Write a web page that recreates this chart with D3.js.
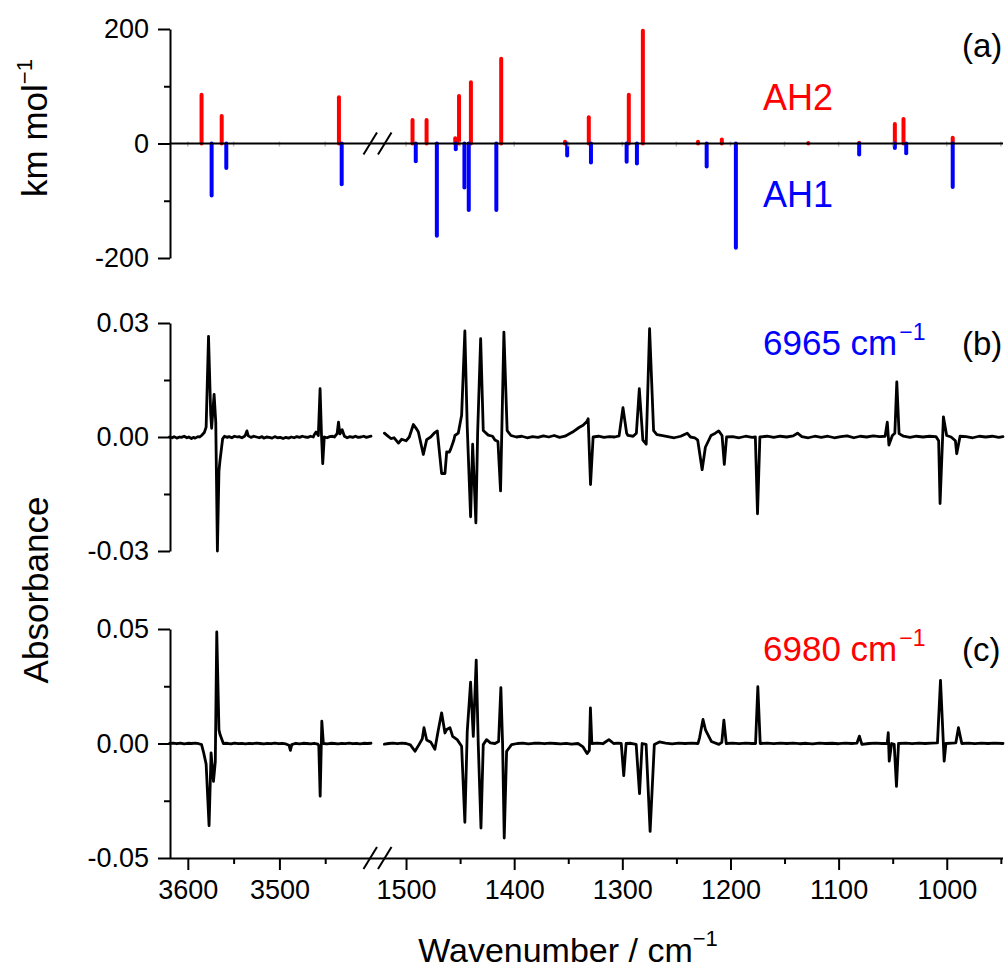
<html>
<head>
<style>
  body { margin: 0; background: #fff; }
  text { font-family: "Liberation Sans", Arial, sans-serif; }
  .axis path, .axis line { stroke: #000; stroke-width: 2; }
  .axis text { font-size: 27px; fill: #000; font-family: "Liberation Sans", Arial, sans-serif; }
</style>
<script src="https://d3js.org/d3.v7.min.js"></script>
</head>
<body>
<svg width="1006" height="972"></svg>
<script>
// ---- (a) calculated stick spectra, km/mol ----
var ah2Wn  = [3585, 3563, 3435, 1494, 1481, 1454.5, 1451, 1440, 1412, 1353, 1331, 1294, 1281, 1230, 1208, 1128, 1081, 1048, 1040, 994.5];
var ah2Int = [85, 48, 81, 41, 41, 9, 83, 107, 148, 3, 46, 85, 197, 3, 7, 1, 1.5, 34, 43, 10];
var ah1Wn  = [3574, 3558, 3432, 1491, 1471.5, 1454, 1446, 1442, 1416.5, 1351, 1329, 1296, 1286.5, 1222, 1195, 1081, 1048, 1037.5, 994.5];
var ah1Int = [-91, -43, -71, -31, -161, -10, -77, -116, -116, -21, -33, -32, -35, -40, -182, -19, -8, -17, -76];

// ---- (b) difference spectrum, 6965 cm-1 irradiation ----
var bLeftWn  = [3620,3617,3615,3612,3609,3607,3604,3601,3599,3596,3594,3592,3589,3587,3585,3582,3580,3577.4,3575,3574,3571.3,3569.5,3567.7,3566,3565,3562,3560,3557,3555,3552,3549,3546,3544,3541,3538,3537,3535.5,3534,3531,3528,3525,3522,3519,3517,3514,3511,3508,3505,3502,3499,3496,3493,3490,3487,3484,3481,3478,3475,3472,3469,3466,3463,3462,3460,3457.5,3455.6,3454,3452.7,3451,3448,3445,3442,3440,3437,3435.5,3434,3431.5,3429,3426,3423,3420,3417,3414,3411,3408,3405,3402,3400];
var bLeftAbs = [0,-0.0002,0.0001,-0.0003,0,-0.0001,0.0002,-0.0002,0,-0.0004,-0.0001,-0.0003,0.0001,0,0.0004,0.0012,0.0026,0.0265,0.006,0.0023,0.0112,0.004,-0.03,-0.009,-0.0065,-0.0005,0.0002,-0.0001,0.0001,-0.0002,0.0002,0,0.0001,-0.0002,0.0002,0.0006,0.0016,0.0003,-0.0001,0.0002,0,-0.0002,0.0001,-0.0003,0,-0.0001,-0.0003,0.0001,-0.0002,-0.0001,-0.0004,-0.0001,-0.0003,0,-0.0002,0.0001,-0.0001,0.0002,0,-0.0001,0.0002,0,0.0006,0.0013,0.0004,0.0127,0.0002,-0.007,0,-0.0002,0.0001,0.0002,0,0.0009,0.0039,0.0008,0.0019,0.0002,-0.0002,0.0001,-0.0001,0.0002,-0.0001,0,0.0002,-0.0001,0.0001,0.0002];
var bRightWn  = [1520,1517,1514,1511,1507,1504,1500,1497,1493.2,1490,1488.6,1484,1480.9,1477.2,1474,1471.1,1467.1,1464,1462.4,1460,1458.7,1456,1454.8,1451.7,1448.6,1445.6,1443.4,1440.3,1438.4,1435.4,1433.8,1431,1428.6,1424,1420,1417.8,1415,1412.6,1409.5,1406.5,1403,1398,1393,1388,1383,1378,1373,1368,1363,1358,1353,1346,1340,1336.3,1333,1331.6,1329.4,1327,1322,1317,1312,1307,1303,1299.4,1296,1294.8,1290,1287,1284.3,1281,1277.9,1274.8,1271.1,1268,1264,1258,1252,1246,1240,1237,1233,1230.3,1226.2,1223.2,1218,1214,1210.9,1207.8,1205.7,1203.6,1198,1192,1186,1180,1177,1175,1172.8,1166,1160,1154,1148,1142,1138,1134,1128,1122,1116,1110,1104,1098,1092,1086,1080,1074,1068,1062,1057,1055,1053.5,1050.3,1048,1046.2,1044.1,1040,1034,1028,1022,1016,1010,1007.5,1006.2,1003.1,1000.1,996,992,990.8,987.7,982,976,970,964,958,952,948];
var bRightAbs = [0.001,0.0003,-0.0004,-0.0002,-0.0016,-0.0006,-0.001,0,0.0033,0.002,0.0013,-0.0046,-0.0007,0,0.001,0.0016,-0.0096,-0.0096,-0.0039,-0.004,-0.0032,-0.001,0.0004,0.001,0.0057,0.0279,0.0026,-0.021,-0.0019,-0.0226,0.0009,0.0259,0.0017,0.0005,0.0002,-0.0008,-0.0012,-0.0142,0.0276,0.0017,0.0004,0,0.0002,-0.0002,0.0001,-0.0001,0.0003,0,0.0004,-0.0001,0.0002,0.0013,0.0025,0.0031,0.004,0.0048,-0.0125,0,0.0002,-0.0001,0.0001,0,0.0003,0.0077,0.001,0.0004,0.0002,0.001,0.0127,-0.0008,-0.0019,0.0285,0.0017,0.0006,0.0004,0.0001,-0.0002,0.0002,0.001,0,-0.0002,-0.0008,-0.0086,-0.0027,0.0004,0.001,0.0016,0.0004,-0.0072,0,0.0001,-0.0002,0.0002,-0.0001,0,-0.0202,0,0.0002,-0.0001,0.0002,0,0.0003,0.001,0.0001,-0.0002,0.0002,-0.0001,0.0002,-0.0002,0.0001,0.0003,-0.0002,0.0002,0,0.0003,0.0001,0.0002,0.0039,-0.0021,0.0004,0.001,0.0145,0.0009,0.0002,-0.0001,0.0002,0,0.0002,0.0001,-0.001,-0.0175,0.0053,0.0004,0,-0.001,-0.0044,0.0002,0.0001,-0.0002,0.0002,0,0.0002,-0.0001,0.0001];

// ---- (c) difference spectrum, 6980 cm-1 irradiation ----
var cLeftWn  = [3620,3616,3612,3608,3604,3600,3596,3592,3588,3585,3583,3580,3576.8,3574.6,3572,3570,3568.4,3566,3564.8,3561.2,3557,3553,3549,3545,3541,3537,3533,3529,3525,3521,3517,3513,3509,3505,3501,3497,3493,3489.5,3488,3486.5,3482,3478,3474,3470,3466,3462,3458,3457,3455.5,3453.7,3452,3448,3444,3440,3436,3432,3428,3424,3420,3416,3412,3408,3404,3400];
var cLeftAbs = [0,0.0002,-0.0001,0.0002,-0.0002,0.0001,0,0.0002,-0.0001,-0.0005,-0.0035,-0.009,-0.0359,-0.0041,-0.0165,-0.008,0.0487,0.006,0.0039,0,0.0001,-0.0002,0.0002,-0.0001,0.0001,-0.0002,0.0001,-0.0001,0.0002,0,-0.0002,0.0001,-0.0001,0.0002,-0.0001,0.0001,-0.0002,-0.0008,-0.003,-0.0005,0.0001,-0.0002,0.0001,0,-0.0002,0.0001,-0.0003,-0.001,-0.023,0.0098,0,-0.0002,0.0001,0,-0.0002,0.0001,-0.0001,0.0002,-0.0001,0.0001,-0.0002,0.0001,0,0.0001];
var cRightWn  = [1520,1516,1512,1508,1504,1500,1496,1491.7,1488,1485,1483.4,1480.9,1477,1473.3,1470.2,1467.1,1464,1462.4,1459.4,1456.9,1452.7,1448.6,1445.6,1443.4,1440.3,1437.8,1435.1,1433.2,1430.7,1428.6,1425.5,1422,1417.8,1414.4,1412.3,1410.7,1409.2,1407,1402.4,1397,1392,1387,1382,1377,1372,1367,1362,1357,1352,1347,1341,1336.3,1332.6,1330.5,1329.5,1328.2,1323,1318,1312.4,1308,1304,1301,1298.7,1296.5,1292,1287.2,1284.1,1281.7,1278,1274.3,1270.4,1265.7,1260,1254,1248,1242,1236,1230,1228.5,1225.4,1223,1217.7,1210.7,1208,1206.1,1203.9,1198,1192,1186,1180,1176.8,1174.7,1172.5,1166,1160,1154,1148,1142,1136,1130,1124,1118,1112,1106,1100,1094,1088,1083,1080.8,1078.5,1072,1066,1060,1055,1054.1,1053.2,1051,1048.6,1046.5,1044.6,1038,1032,1026,1020,1014,1008.6,1005.8,1002.4,1000.8,995,991.6,989.2,986.1,980,974,968,962,956,948];
var cRightAbs = [-0.0003,0,0.0002,-0.0001,0.0002,0,-0.0006,-0.0034,-0.0005,0.002,0.0069,0.0015,0.0005,-0.0025,0.0058,0.0134,0.0046,0.0061,0.0069,0.0031,0.0017,-0.0012,-0.0344,0.0052,0.0268,0.0031,0.0364,-0.0005,-0.0369,-0.0005,0.0017,0.0003,0,0.0009,0.0244,-0.0005,-0.0413,-0.0034,-0.0005,0,0.0002,-0.0002,0.0001,0.0002,-0.0001,0.0002,0,-0.0002,0.0001,-0.0003,0,-0.0015,-0.0044,-0.003,0.0156,0,0.0002,-0.0001,0.0017,0,0.0002,0,-0.014,0,0.0001,-0.0004,-0.0219,0,-0.0004,-0.0384,-0.0004,0.0007,0.0002,-0.0002,0.0002,0,0.0002,0,0.0027,0.0105,0.0058,0.0009,-0.0004,0.0005,0.0102,0,0.0002,-0.0001,0.0002,0,0,0.0248,0,0.0002,-0.0001,0.0002,0,0.0002,-0.0001,0.0001,-0.0002,0.0002,0,0.0001,-0.0001,0.0002,0,0.0002,0.0032,-0.0004,0,0.0002,0,0,0.0047,-0.0077,0,-0.0004,-0.0187,0,0.0002,-0.0001,0.0002,0,0.0002,0.0003,0.0276,-0.0077,0,0.0002,0.0003,0.0069,0,0.0002,-0.0001,0.0002,0,0.0002,0];

// ---- ticks ----
var yTicksA = [-200, 0, 200],      yMinorA = [-100, 100];
var yTicksB = [-0.03, 0, 0.03],    yMinorB = [-0.015, 0.015];
var yTicksC = [-0.05, 0, 0.05],    yMinorC = [-0.025, 0.025];
var xTicksLeft  = [3600, 3500],    xMinorLeft  = [3550, 3450];
var xTicksRight = [1500, 1400, 1300, 1200, 1100, 1000];
var xMinorRight = [1450, 1350, 1250, 1150, 1050, 950];

var svg = d3.select("svg");

// gebrochene x-Achse: zwei Skalen
var xL = d3.scaleLinear().domain([3620, 3400]).range([169.5, 371]);
var xR = d3.scaleLinear().domain([1520, 948]).range([384.4, 1003]);
function xs(w) { return w > 2000 ? xL(w) : xR(w); }

var yA = d3.scaleLinear().domain([-200, 200]).range([258, 29]);
var yB = d3.scaleLinear().domain([-0.03, 0.03]).range([551, 323]);
var yC = d3.scaleLinear().domain([-0.05, 0.05]).range([858, 629]);

function fmt2(d) { return d.toFixed(2); }

function yAxis(scale, major, minor, f) {
  svg.append("g").attr("class", "axis").attr("transform", "translate(170,0)")
     .call(d3.axisLeft(scale).tickValues(major).tickSize(12).tickPadding(9).tickSizeOuter(0).tickFormat(f));
  var m = svg.append("g").attr("class", "axis").attr("transform", "translate(170,0)")
     .call(d3.axisLeft(scale).tickValues(minor).tickSize(6).tickFormat(""));
  m.select(".domain").remove();
}
yAxis(yA, yTicksA, yMinorA, function(d){ return String(d); });
yAxis(yB, yTicksB, yMinorB, fmt2);
yAxis(yC, yTicksC, yMinorC, fmt2);

// bottom axis
function xAxis(scale, major, minor) {
  var g = svg.append("g").attr("class", "axis").attr("transform", "translate(0,858)")
     .call(d3.axisBottom(scale).tickValues(major).tickSize(12).tickPadding(10).tickFormat(d3.format("d")));
  g.select(".domain").remove();
  var m = svg.append("g").attr("class", "axis").attr("transform", "translate(0,858)")
     .call(d3.axisBottom(scale).tickValues(minor).tickSize(6).tickFormat(""));
  m.select(".domain").remove();
}
xAxis(xL, xTicksLeft, xMinorLeft);
xAxis(xR, xTicksRight, xMinorRight);
svg.append("line").attr("x1", 170).attr("x2", 1003).attr("y1", 858.5).attr("y2", 858.5)
   .attr("stroke", "#000").attr("stroke-width", 2);

// sticks (a)
var ah2 = ah2Wn.map(function(w, i){ return [w, ah2Int[i]]; });
var ah1 = ah1Wn.map(function(w, i){ return [w, ah1Int[i]]; });
svg.selectAll(".ah2").data(ah2).enter().append("line").attr("class", "ah2")
   .attr("x1", function(d){ return xs(d[0]); }).attr("x2", function(d){ return xs(d[0]); })
   .attr("y1", yA(0)).attr("y2", function(d){ return yA(d[1]); })
   .attr("stroke", "#ff0000").attr("stroke-width", 4).attr("stroke-linecap", "round");
svg.selectAll(".ah1").data(ah1).enter().append("line").attr("class", "ah1")
   .attr("x1", function(d){ return xs(d[0]); }).attr("x2", function(d){ return xs(d[0]); })
   .attr("y1", yA(0)).attr("y2", function(d){ return yA(d[1]); })
   .attr("stroke", "#0000ff").attr("stroke-width", 4).attr("stroke-linecap", "round");

// schwache ticks auf der Nulllinie
var zeroTicks = xTicksLeft.concat(xMinorLeft).map(xL).concat(xTicksRight.concat(xMinorRight).map(xR));
svg.selectAll(".zt").data(zeroTicks).enter().append("line").attr("class", "zt")
   .attr("x1", function(d){ return d; }).attr("x2", function(d){ return d; })
   .attr("y1", yA(0) - 2).attr("y2", yA(0) + 3)
   .attr("stroke", "#bbb").attr("stroke-width", 1.5);
svg.append("line").attr("x1", 170).attr("x2", 1003).attr("y1", yA(0)).attr("y2", yA(0))
   .attr("stroke", "#000").attr("stroke-width", 2);

// spectra
function drawSpec(wn, ab, xsc, ysc) {
  var pts = wn.map(function(w, i){ return [w, ab[i]]; });
  var line = d3.line().x(function(d){ return xsc(d[0]); }).y(function(d){ return ysc(d[1]); });
  svg.append("path").datum(pts).attr("d", line)
     .attr("fill", "none").attr("stroke", "#000").attr("stroke-width", 2.8)
     .attr("stroke-linejoin", "round").attr("stroke-linecap", "round");
}
drawSpec(bLeftWn, bLeftAbs, xL, yB);
drawSpec(bRightWn, bRightAbs, xR, yB);
drawSpec(cLeftWn, cLeftAbs, xL, yC);
drawSpec(cRightWn, cRightAbs, xR, yC);

// break marks //
function brk(yc) {
  [363.5, 378].forEach(function(x0) {
    svg.append("line").attr("x1", x0).attr("y1", yc + 11).attr("x2", x0 + 13.5).attr("y2", yc - 11)
       .attr("stroke", "#000").attr("stroke-width", 2);
  });
}
brk(yA(0));
brk(858);

// texts
function label(x, y, txt, color, size) {
  return svg.append("text").attr("x", x).attr("y", y).attr("fill", color)
     .style("font-size", size + "px").text(txt);
}
label(962, 57, "(a)", "#000", 33);
label(763, 110, "AH2", "#ff0000", 36);
label(763, 207, "AH1", "#0000ff", 36);
label(962, 355, "(b)", "#000", 33);
label(962, 661, "(c)", "#000", 33);

function supLabel(x, y, main, color) {
  var t = svg.append("text").attr("x", x).attr("y", y).attr("fill", color).style("font-size", "35px");
  t.append("tspan").text(main);
  t.append("tspan").attr("dx", 2).attr("dy", -15).style("font-size", "23px").text("\u22121");
  return t;
}
supLabel(763, 355, "6965 cm", "#0000ff");
supLabel(763, 661, "6980 cm", "#ff0000");

var t1 = svg.append("text").attr("transform", "translate(47,128) rotate(-90)")
   .attr("text-anchor", "middle").style("font-size", "35px").attr("fill", "#000");
t1.append("tspan").text("km mol");
t1.append("tspan").attr("dy", -15).style("font-size", "22px").text("\u22121");

svg.append("text").attr("transform", "translate(48,590) rotate(-90)")
   .attr("text-anchor", "middle").style("font-size", "35px").attr("fill", "#000").text("Absorbance");

var t2 = svg.append("text").attr("x", 568).attr("y", 962)
   .attr("text-anchor", "middle").style("font-size", "34px").attr("fill", "#000");
t2.append("tspan").text("Wavenumber / cm");
t2.append("tspan").attr("dy", -16).style("font-size", "22px").text("\u22121");
</script>
</body>
</html>
